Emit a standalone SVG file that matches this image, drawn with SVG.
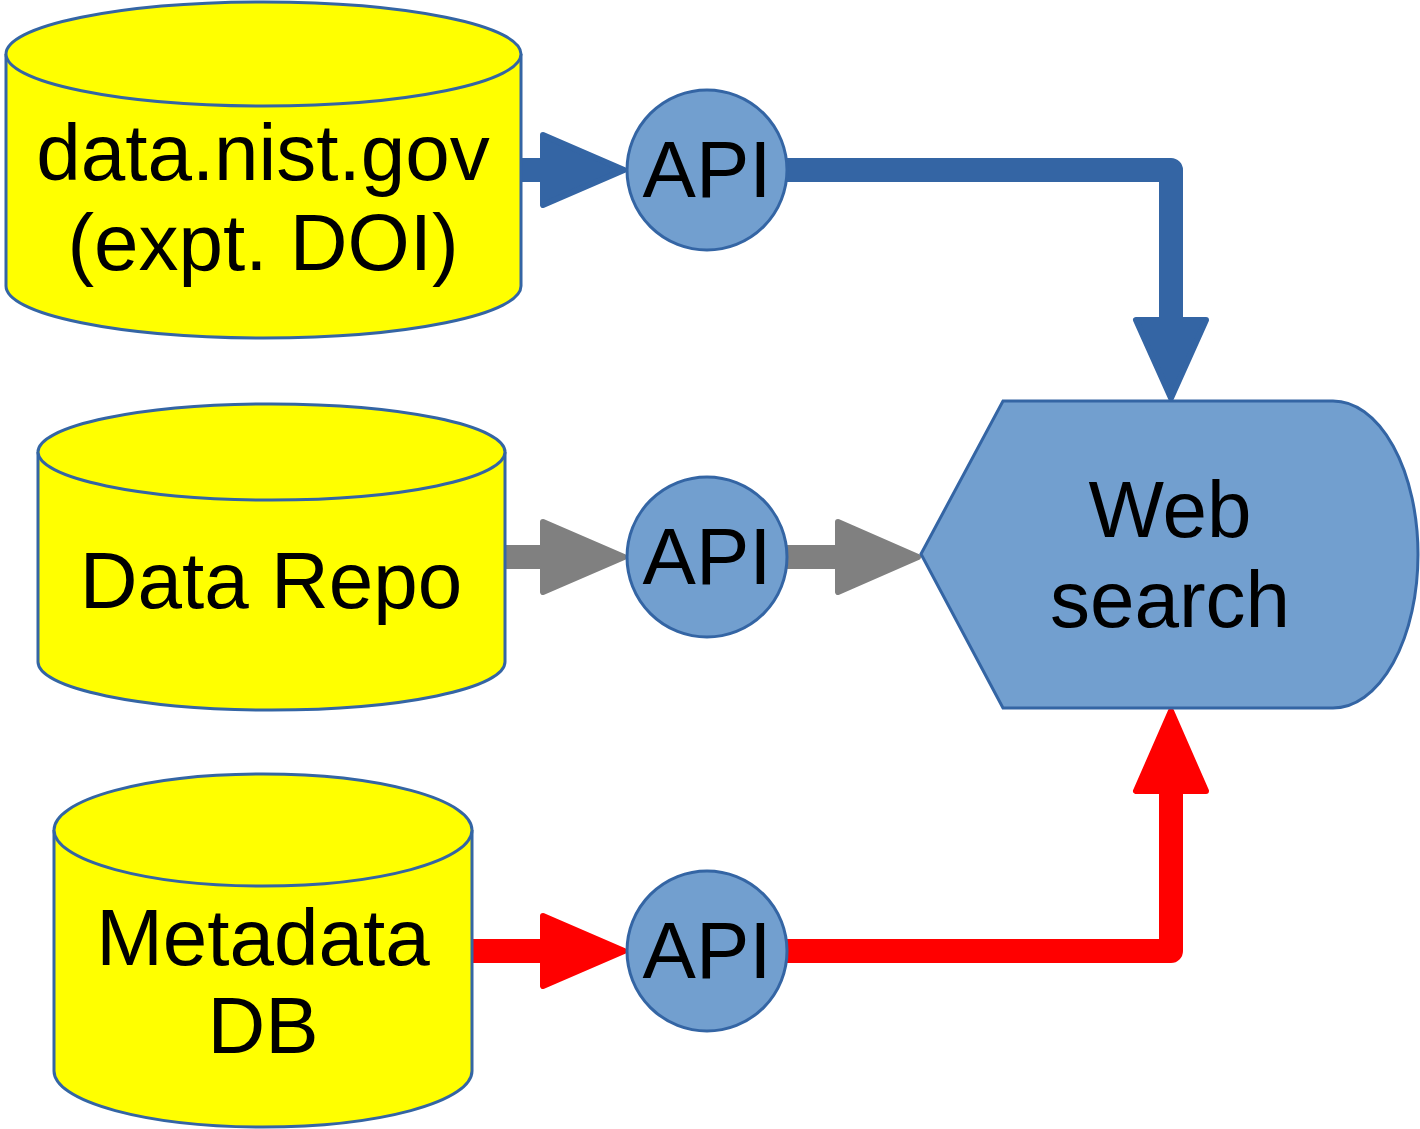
<svg xmlns="http://www.w3.org/2000/svg" width="1420" height="1129" viewBox="0 0 1420 1129">
<style>
.cyl{fill:#ffff00;stroke:#3465a4;stroke-width:3}
.api{fill:#729fcf;stroke:#3465a4;stroke-width:3}
.t{font-family:"Liberation Sans",Arial,sans-serif;font-size:80px;fill:#000;text-anchor:middle}
.ln{fill:none;stroke-width:24;stroke-linejoin:round}
.hd{stroke-width:6;stroke-linejoin:round}
</style>
<rect width="1420" height="1129" fill="#fff"/>
<g id="connectors">
  <g id="c1" stroke="#3465a4" fill="#3465a4">
    <path class="ln" d="M521,170 H545"/>
    <polygon class="hd" points="543,135 624,170 543,205"/>
    <path class="ln" d="M787,170 H1171 V320"/>
    <polygon class="hd" points="1136,320 1206,320 1171,398"/>
  </g>
  <g id="c2" stroke="#808080" fill="#808080">
    <path class="ln" d="M505,557 H545"/>
    <polygon class="hd" points="543,522 624,557 543,592"/>
    <path class="ln" d="M787,557 H840"/>
    <polygon class="hd" points="838,522 918,557 838,592"/>
  </g>
  <g id="c3" stroke="#ff0000" fill="#ff0000">
    <path class="ln" d="M472,951 H545"/>
    <polygon class="hd" points="543,916 624,951 543,986"/>
    <path class="ln" d="M787,951 H1171 V790"/>
    <polygon class="hd" points="1136,791 1206,791 1171,711"/>
  </g>
</g>
<g id="db1">
  <path class="cyl" d="M6,54 V286 A257.5,52 0 0 0 521,286 V54"/>
  <ellipse class="cyl" cx="263.5" cy="54" rx="257.5" ry="52"/>
  <text class="t" x="263" y="180">data.nist.gov</text>
  <text class="t" x="263" y="270">(expt. DOI)</text>
</g>
<g id="db2">
  <path class="cyl" d="M38,452 V662 A233.5,48 0 0 0 505,662 V452"/>
  <ellipse class="cyl" cx="271.5" cy="452" rx="233.5" ry="48"/>
  <text class="t" x="271" y="608">Data Repo</text>
</g>
<g id="db3">
  <path class="cyl" d="M54,830 V1071 A209,56 0 0 0 472,1071 V830"/>
  <ellipse class="cyl" cx="263" cy="830" rx="209" ry="56"/>
  <text class="t" x="263" y="965">Metadata</text>
  <text class="t" x="263" y="1053">DB</text>
</g>
<g id="api1">
  <circle class="api" cx="707" cy="170" r="80"/>
  <text class="t" x="707" y="197">API</text>
</g>
<g id="api2">
  <circle class="api" cx="707" cy="557" r="80"/>
  <text class="t" x="707" y="584">API</text>
</g>
<g id="api3">
  <circle class="api" cx="707" cy="951" r="80"/>
  <text class="t" x="707" y="978">API</text>
</g>
<g id="web">
  <path class="api" d="M921,554 L1003,401 H1333 A85,153.5 0 0 1 1333,708 H1003 Z"/>
  <text class="t" x="1170" y="537">Web</text>
  <text class="t" x="1170" y="627">search</text>
</g>
</svg>
